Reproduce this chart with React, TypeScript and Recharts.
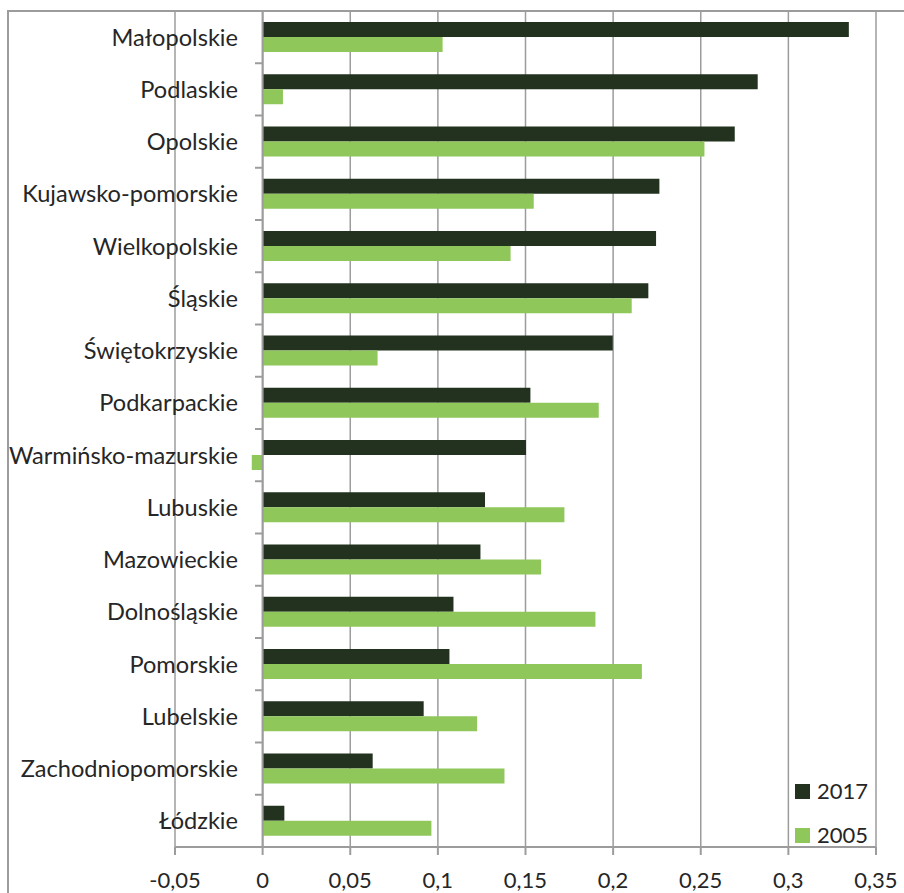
import React from 'react';
import { BarChart, Bar, XAxis, YAxis, CartesianGrid, ReferenceLine, Legend } from 'recharts';

const categories = [
  'Małopolskie', 'Podlaskie', 'Opolskie', 'Kujawsko-pomorskie', 'Wielkopolskie', 'Śląskie',
  'Świętokrzyskie', 'Podkarpackie', 'Warmińsko-mazurskie', 'Lubuskie', 'Mazowieckie',
  'Dolnośląskie', 'Pomorskie', 'Lubelskie', 'Zachodniopomorskie', 'Łódzkie',
];
const values2017 = [0.3345, 0.2825, 0.2694, 0.2264, 0.2245, 0.2201, 0.1998, 0.1528, 0.1503, 0.1269, 0.1243, 0.1089, 0.1066, 0.0919, 0.0628, 0.0124];
const values2005 = [0.1027, 0.0116, 0.2521, 0.1547, 0.1415, 0.2106, 0.0656, 0.1918, -0.0062, 0.1722, 0.1589, 0.1899, 0.2164, 0.1224, 0.138, 0.0963];
const xTicks = [-0.05, 0, 0.05, 0.1, 0.15, 0.2, 0.25, 0.3, 0.35];
const seriesNames = ['2017', '2005'];

const data = categories.map((name, i) => ({ name, v2017: values2017[i], v2005: values2005[i] }));

const W = 904;
const H = 893;
const MARGIN = { top: 11, right: 28, bottom: 0, left: 0 };
const Y_W = 175;
const X_H = 46;
const PLOT_H = H - MARGIN.top - MARGIN.bottom - X_H;
const BAND_HALF = PLOT_H / categories.length / 2;
const FONT = 'Lato, "Open Sans", sans-serif';
const TEXT = '#262626';
const GRID = '#9c9c9c';
const DARK = '#22321f';
const LIGHT = '#8fc75a';

const fmt = (v: number) => String(+v.toFixed(2)).replace('.', ',');

function CatTick(props: any) {
  const { x, y, payload } = props;
  return (
    <g>
      <text x={x + 63} y={y} dy="0.355em" textAnchor="end" fontSize={23.6} fill={TEXT} fontFamily={FONT}>
        {payload.value}
      </text>
      <line x1={x + 80} x2={x + 88} y1={y + BAND_HALF} y2={y + BAND_HALF} stroke={GRID} strokeWidth={2} />
    </g>
  );
}

function LegendContent(props: any) {
  const payload = [...(props.payload || [])].sort(
    (a: any, b: any) => seriesNames.indexOf(a.value) - seriesNames.indexOf(b.value)
  );
  return (
    <div style={{ display: 'flex', flexDirection: 'column', fontFamily: FONT }}>
      {payload.map((p: any) => (
        <div key={p.value} style={{ height: 44, display: 'flex', alignItems: 'center' }}>
          <span style={{ width: 15, height: 15, background: p.color, display: 'inline-block', marginRight: 7 }} />
          <span style={{ fontSize: 22, color: TEXT, lineHeight: '22px' }}>{p.value}</span>
        </div>
      ))}
    </div>
  );
}

export default function App() {
  return (
    <div style={{ position: 'absolute', left: 0, top: 0, width: W, height: H, overflow: 'hidden', background: '#fff' }}>
      <div style={{ position: 'absolute', left: 7, top: 10, width: 2, height: H - 10, background: GRID }} />
      <div style={{ position: 'absolute', left: 7, top: 10, width: W - 7, height: 2, background: GRID }} />
      <div style={{ position: 'absolute', left: 0, top: 0 }}>
        <BarChart
          width={W}
          height={H}
          data={data}
          layout="vertical"
          margin={MARGIN}
          barCategoryGap={11}
          barGap={0}
          style={{ fontFamily: FONT }}
        >
          <CartesianGrid horizontal={false} vertical={true} stroke={GRID} strokeWidth={1.5} />
          <XAxis
            type="number"
            domain={[-0.05, 0.35]}
            ticks={xTicks}
            tickFormatter={fmt}
            height={X_H}
            tickSize={8}
            tickMargin={17}
            axisLine={{ stroke: GRID, strokeWidth: 2 }}
            tickLine={{ stroke: GRID, strokeWidth: 2 }}
            tick={{ fontSize: 22, fill: TEXT, fontFamily: FONT }}
            interval={0}
          />
          <YAxis
            type="category"
            dataKey="name"
            width={Y_W}
            axisLine={false}
            tickLine={false}
            tickSize={0}
            tickMargin={0}
            interval={0}
            tick={<CatTick />}
          />
          <ReferenceLine x={0} stroke={GRID} strokeWidth={2} />
          <Bar dataKey="v2017" name={seriesNames[0]} fill={DARK} isAnimationActive={false} />
          <Bar dataKey="v2005" name={seriesNames[1]} fill={LIGHT} isAnimationActive={false} />
          <Legend
            layout="vertical"
            align="center"
            verticalAlign="middle"
            content={<LegendContent />}
            wrapperStyle={{ left: 795, top: 769, width: 90, height: 88 }}
          />
        </BarChart>
      </div>
    </div>
  );
}
